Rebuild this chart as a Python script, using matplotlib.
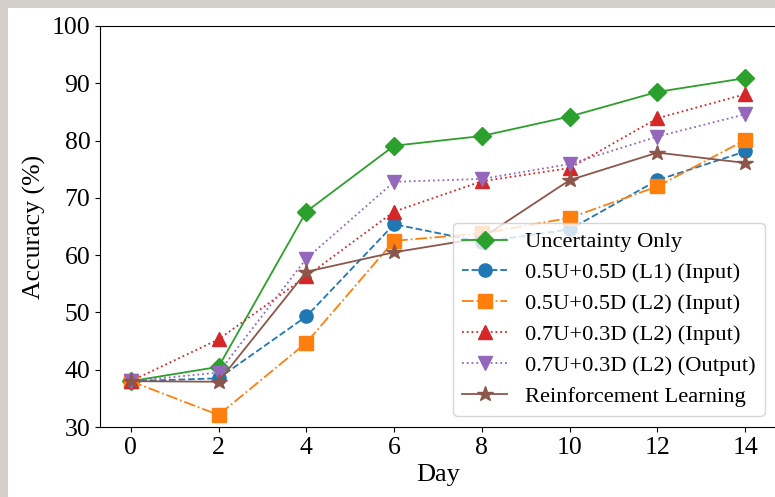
import numpy as np
import matplotlib.pyplot as plt
from matplotlib.patches import Rectangle

plt.rcParams['font.family'] = ['Liberation Serif', 'DejaVu Serif']

days = [0, 2, 4, 6, 8, 10, 12, 14]

# accuracy (%) per strategy
uncertainty_only = [38.0, 40.5, 67.6, 79.1, 80.8, 84.2, 88.5, 90.9]
u05_d05_l1_input = [38.0, 38.5, 49.3, 65.4, 62.3, 64.5, 73.1, 78.1]
u05_d05_l2_input = [38.0, 32.1, 44.7, 62.5, 63.8, 66.5, 72.0, 80.1]
u07_d03_l2_input = [38.0, 45.3, 56.3, 67.6, 72.9, 75.2, 83.9, 88.1]
u07_d03_l2_output = [38.0, 39.5, 59.4, 72.8, 73.3, 75.9, 80.7, 84.6]
reinforcement = [38.0, 37.9, 57.1, 60.5, 63.0, 73.1, 77.9, 76.1]

labels = ['Uncertainty Only', '0.5U+0.5D (L1) (Input)', '0.5U+0.5D (L2) (Input)',
          '0.7U+0.3D (L2) (Input)', '0.7U+0.3D (L2) (Output)', 'Reinforcement Learning']
series = [uncertainty_only, u05_d05_l1_input, u05_d05_l2_input,
          u07_d03_l2_input, u07_d03_l2_output, reinforcement]
styles = [
    dict(color='tab:green', linestyle='-', marker='D'),
    dict(color='tab:blue', linestyle='--', marker='o'),
    dict(color='tab:orange', linestyle='-.', marker='s'),
    dict(color='tab:red', linestyle=':', marker='^'),
    dict(color='tab:purple', linestyle=':', marker='v'),
    dict(color='tab:brown', linestyle='-', marker='*'),
]

fig = plt.figure(figsize=(7.75, 4.97), dpi=100, facecolor='#d3d0cb')
# white page inside the grey screenshot frame
fig.patches.append(Rectangle((8 / 775, 0), 1, 1 - 8 / 497, transform=fig.transFigure,
                             facecolor='white', edgecolor='none', zorder=-5))
ax = fig.add_axes([100 / 775, 1 - 427 / 497, 676 / 775, 401 / 497])
ax.set_facecolor('white')

for vals, lab, st in zip(series, labels, styles):
    ms = 11.5 if st['marker'] == '*' else 9.5
    ax.plot(days, vals, label=lab, markersize=ms, linewidth=1.3, **st)

ax.set_ylim(30, 100)
ax.set_xticks(days)
ax.set_yticks(np.arange(30, 101, 10))
ax.tick_params(labelsize=18.5)
ax.set_xlabel('Day', fontsize=19)
ax.set_ylabel('Accuracy (%)', fontsize=18.5)
ax.legend(loc='lower right', fontsize=16.2, labelspacing=0.45)

plt.savefig('out.png', dpi=100)
